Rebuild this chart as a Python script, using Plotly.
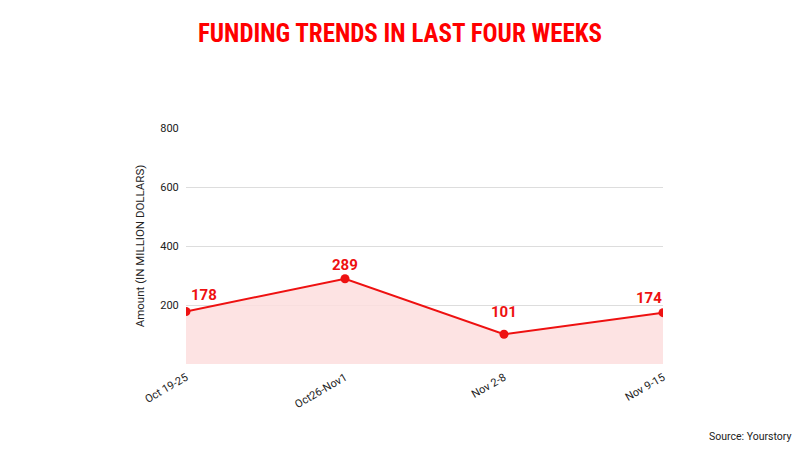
import plotly.graph_objects as go

weeks = ["Oct 19-25", "Oct26-Nov1", "Nov 2-8", "Nov 9-15"]
amounts = [178, 289, 101, 174]
y_ticks = [200, 400, 600, 800]
label_anchor = ["left", "center", "center", "right"]
label_xshift = [3, 0, 0, 1]
label_yshift = [5, 3, 11, 4]

RED = "#ee1111"

fig = go.Figure()
fig.add_trace(go.Scatter(
    x=weeks, y=amounts,
    mode="lines+markers",
    line=dict(color=RED, width=2),
    marker=dict(color=RED, size=9),
    fill="tozeroy",
    fillcolor="rgba(253,222,222,0.85)",
    cliponaxis=True,
    showlegend=False,
))

annotations = [
    dict(x=w, y=v, text=str(v), showarrow=False, xanchor=a, yanchor="bottom",
         xshift=xs, yshift=ys,
         font=dict(family="Roboto", size=15, color=RED, weight="bold"))
    for w, v, a, xs, ys in zip(weeks, amounts, label_anchor, label_xshift, label_yshift)
]
annotations.append(dict(
    text="Source: Yourstory", xref="paper", yref="paper",
    x=(793 - 186) / 477, y=-(436 - 364) / 236, xanchor="right", yanchor="middle",
    showarrow=False, font=dict(family="Roboto", size=10.5, color="#222222"),
))

fig.update_layout(
    width=800, height=450,
    margin=dict(l=186, r=137, t=128, b=86),
    paper_bgcolor="white", plot_bgcolor="white",
    title=dict(
        text="FUNDING TRENDS IN LAST FOUR WEEKS",
        x=0.5, xanchor="center", y=0.926, yanchor="middle",
        font=dict(family="Liberation Sans Narrow, Roboto Condensed, Roboto", size=25, color="#ff0000", weight="bold"),
    ),
    xaxis=dict(
        range=[0, 3], showgrid=False, zeroline=False, showline=False,
        tickangle=-30, tickfont=dict(family="Roboto", size=11, color="#222222"),
        ticks="outside", ticklen=2, tickcolor="white",
    ),
    yaxis=dict(
        range=[0, 800], tickvals=y_ticks, showgrid=True, gridcolor="#dddddd",
        zeroline=False, showline=False,
        tickfont=dict(family="Roboto", size=11, color="#222222"),
        ticks="outside", ticklen=4, tickcolor="white",
        title=dict(text="Amount (IN MILLION DOLLARS)", font=dict(family="Roboto", size=11.5, color="#222222"), standoff=13),
    ),
    annotations=annotations,
)

fig.write_html("out.html")
